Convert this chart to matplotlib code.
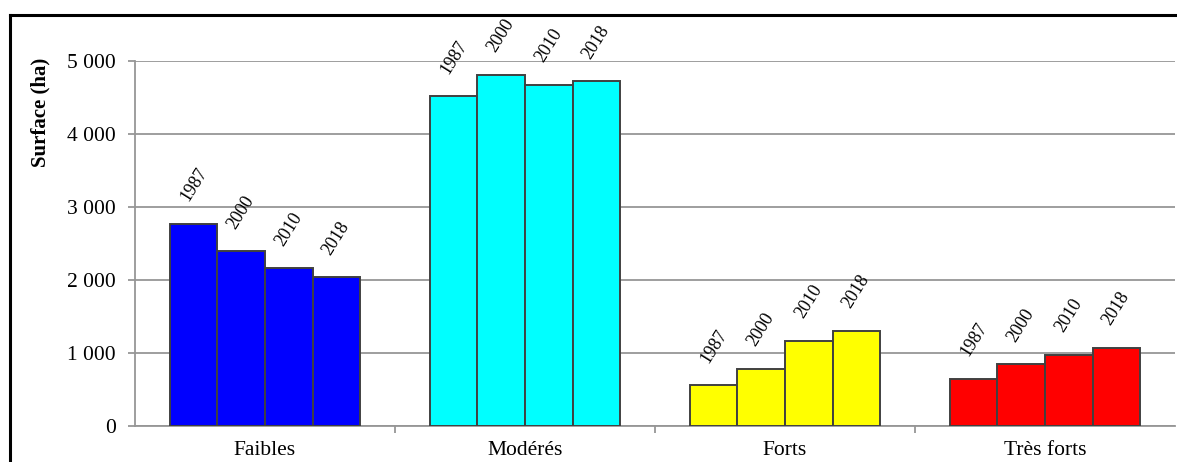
import matplotlib
matplotlib.use("Agg")
import matplotlib.pyplot as plt
from matplotlib.ticker import FuncFormatter, MultipleLocator
from matplotlib.lines import Line2D
import numpy as np

# -----------------------------
# Data
# -----------------------------
categories = ["Faibles", "Modérés", "Forts", "Très forts"]
years = ["1987", "2000", "2010", "2018"]

faibles = [2770, 2390, 2160, 2035]
moderes = [4515, 4810, 4675, 4720]
forts = [555, 780, 1165, 1300]
tres_forts = [645, 845, 975, 1065]

values = [faibles, moderes, forts, tres_forts]
colors = ["#0000FF", "#00FFFF", "#FFFF00", "#FF0000"]

plt.rcParams["font.family"] = ["Liberation Serif", "DejaVu Serif"]

W, H = 1177, 462
fig = plt.figure(figsize=(W / 100, H / 100), dpi=100)
ax = fig.add_axes([135 / W, 36.3 / H, 1040 / W, 364.7 / H])

bar_w = 0.183
grid_col = "#969696"

for i, (vals, col) in enumerate(zip(values, colors)):
    xs = i + 0.5 + (np.arange(len(vals)) - 1.5) * bar_w
    ax.bar(xs, vals, width=bar_w, color=col, edgecolor="#404040",
           linewidth=1.4, zorder=3)
    for x, v, yr in zip(xs, vals, years):
        ax.annotate(yr, (x, v), xytext=(0, 14), textcoords="offset points",
                    ha="center", va="bottom", rotation=58, fontsize=13)

ax.set_xlim(0, 4)
ax.set_ylim(0, 5000)

ax.yaxis.set_major_locator(MultipleLocator(1000))
ax.yaxis.set_major_formatter(
    FuncFormatter(lambda v, p: f"{int(v):,}".replace(",", " ")))
ax.grid(axis="y", color=grid_col, linewidth=1.3, zorder=0)

ax.set_xticks(np.arange(len(categories)) + 0.5)
ax.set_xticklabels(categories)
ax.set_xticks(np.arange(1, len(categories)), minor=True)
ax.tick_params(axis="x", which="major", length=0, pad=11, labelsize=15.5)
ax.tick_params(axis="x", which="minor", length=5, width=1.3, color=grid_col)
ax.tick_params(axis="y", length=5, width=1.3, color=grid_col, pad=9,
               labelsize=15.5)

for side in ["top", "right"]:
    ax.spines[side].set_visible(False)
for side in ["left", "bottom"]:
    ax.spines[side].set_color(grid_col)
    ax.spines[side].set_linewidth(1.3)

# label sits high on the axis, as in the original
ax.set_ylabel("Surface (ha)", fontweight="bold", fontsize=15,
              va="center", ha="center")
ax.yaxis.set_label_coords(-0.0913, 0.859)

# frame around the figure (only left and top visible in the crop)
top_y = 1 - 15 / H
left_x = 10 / W
fig.add_artist(Line2D([left_x, left_x], [0, top_y], color="black",
                      linewidth=2.2, transform=fig.transFigure))
fig.add_artist(Line2D([left_x, 1], [top_y, top_y], color="black",
                      linewidth=2.2, transform=fig.transFigure))

fig.savefig("out.png", dpi=100)
